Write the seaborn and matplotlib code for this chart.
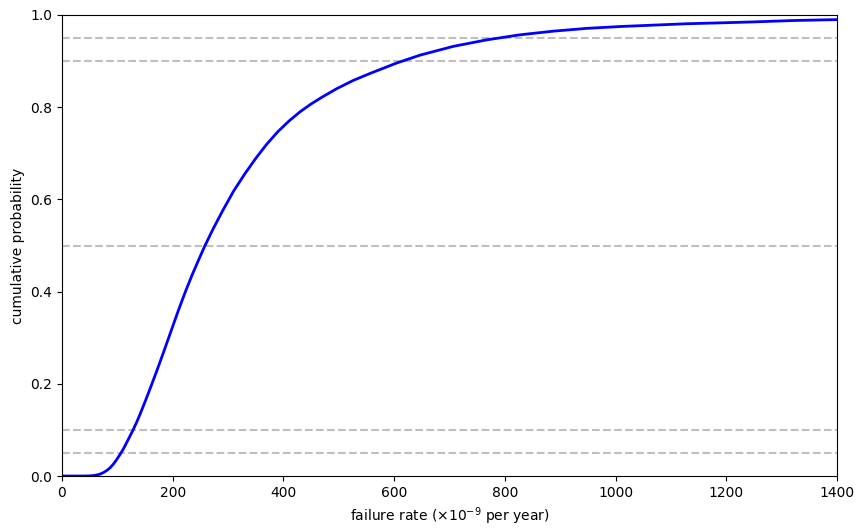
import matplotlib
matplotlib.use("Agg")
import matplotlib.pyplot as plt
import seaborn as sns
import pandas as pd

# values
failure_rate = [0, 40, 50, 57, 63, 69, 75, 81, 87, 93, 99, 105, 111, 117, 123, 128,
                135, 141, 150, 159, 170, 183, 196, 209, 222, 235, 248, 258, 273, 290,
                310, 330, 350, 370, 390, 410, 430, 450, 470, 496, 526, 556, 605, 647,
                707, 767, 827, 888, 948, 1008, 1068, 1128, 1190, 1249, 1320, 1400]
cum_prob = [0.0, 0.0, 0.0003, 0.001, 0.0022, 0.0042, 0.0075, 0.012, 0.018, 0.026,
            0.036, 0.047, 0.059, 0.073, 0.087, 0.099, 0.117, 0.134, 0.161, 0.189,
            0.224, 0.267, 0.311, 0.355, 0.397, 0.436, 0.472, 0.499, 0.536, 0.575,
            0.618, 0.655, 0.689, 0.720, 0.747, 0.770, 0.790, 0.807, 0.822, 0.840,
            0.858, 0.873, 0.896, 0.913, 0.932, 0.946, 0.957, 0.965, 0.971, 0.975,
            0.978, 0.981, 0.983, 0.985, 0.988, 0.990]
ref_levels = [0.05, 0.1, 0.5, 0.9, 0.95]

df = pd.DataFrame({"rate": failure_rate, "p": cum_prob})

fig = plt.figure(figsize=(8.64, 5.32), dpi=100)
ax = fig.add_axes([62/864, 56/532, (837-62)/864, (476-15)/532])

for lv in ref_levels:
    ax.axhline(lv, color="gray", alpha=0.5, linestyle="--", linewidth=1.5)

sns.lineplot(data=df, x="rate", y="p", ax=ax, color="blue", linewidth=2)

ax.set_xlim(0, 1400)
ax.set_ylim(0, 1)
ax.set_xlabel("failure rate (×10$^{-9}$ per year)")
ax.set_ylabel("cumulative probability")

fig.savefig("out.png", dpi=100)
